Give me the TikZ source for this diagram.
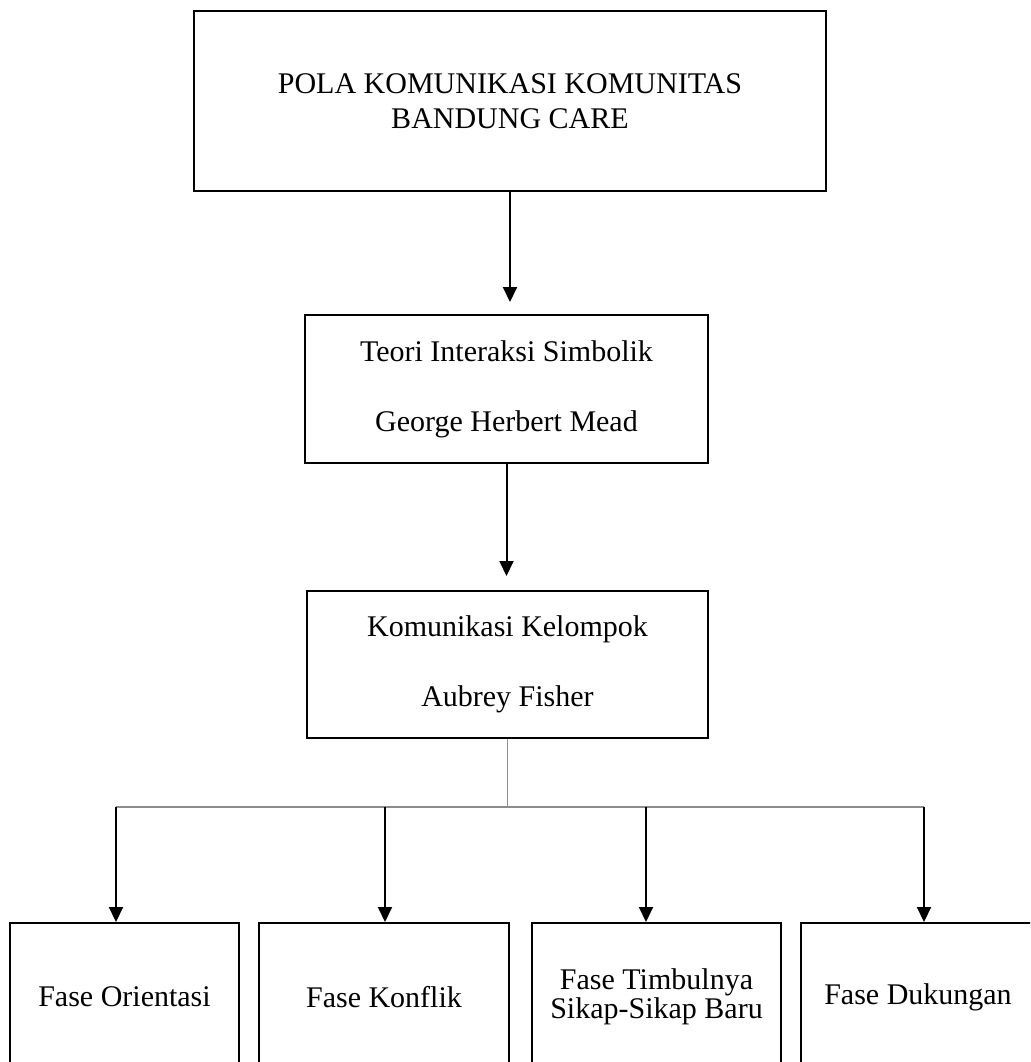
\documentclass[tikz,border=0pt]{standalone}
\usepackage{fontspec}
\setmainfont{Liberation Serif}
\usetikzlibrary{arrows.meta}
\begin{document}
\begin{tikzpicture}[x=0.5pt,y=-0.5pt,box/.style={rectangle,draw,line width=1pt,fill=white,inner sep=0pt,align=center,font=\fontsize{15}{17.5}\selectfont},phase/.style={box,minimum height=74pt,font=\fontsize{15}{14.5}\selectfont},link/.style={line width=1pt,-{Triangle[length=7.5pt,width=7pt]}},bus/.style={line width=0.7pt,draw=black!45}]
\clip (0,0) rectangle (1030,1062);
\coordinate (P) at (510,101);
\coordinate (T) at (506.5,389);
\coordinate (K) at (507.5,664.5);
\coordinate (F1) at (124.5,997);
\coordinate (F2) at (384,997);
\coordinate (F3) at (656.5,997);
\coordinate (F4) at (918,997);
\coordinate (B1) at (116,807);
\coordinate (B2) at (385,807);
\coordinate (B3) at (646,807);
\coordinate (B4) at (924,807);
\node[box,minimum width=316pt,minimum height=90pt] (pola) at (P) {POLA KOMUNIKASI KOMUNITAS\\BANDUNG CARE};
\node[box,minimum width=201.5pt,minimum height=74pt] (teori) at (T) {Teori Interaksi Simbolik\\[17.5pt]George Herbert Mead};
\node[box,minimum width=200.5pt,minimum height=73.5pt] (kelompok) at (K) {Komunikasi Kelompok\\[17.5pt]Aubrey Fisher};
\node[phase,minimum width=114.5pt] (orientasi) at (F1) {Fase Orientasi};
\node[phase,minimum width=125pt] (konflik) at (F2) {Fase Konflik};
\node[phase,minimum width=124.5pt] (sikap) at (F3) {Fase Timbulnya\\Sikap-Sikap Baru};
\node[phase,minimum width=117pt] (dukungan) at (F4) {Fase Dukungan};
\draw[link,shorten >=6pt] (pola.south) -- (pola.south |- teori.north);
\draw[link,shorten >=7pt] (teori.south) -- (teori.south |- kelompok.north);
\draw[bus] (kelompok.south) -- (kelompok.south |- B1);
\draw[bus] (B1) -- (B4);
\draw[link] (B1) -- (B1 |- orientasi.north);
\draw[link] (B2) -- (B2 |- konflik.north);
\draw[link] (B3) -- (B3 |- sikap.north);
\draw[link] (B4) -- (B4 |- dukungan.north);
\end{tikzpicture}
\end{document}
